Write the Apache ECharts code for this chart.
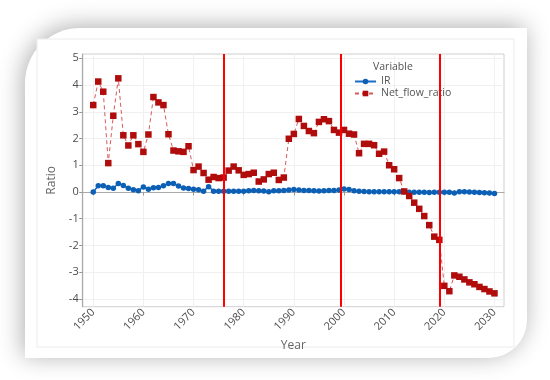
<!DOCTYPE html>
<html>
<head>
<meta charset="utf-8">
<script src="https://cdn.jsdelivr.net/npm/echarts@6/dist/echarts.min.js"></script>
<style>html,body{margin:0;padding:0;background:#fff}#c{width:550px;height:380px}</style>
</head>
<body>
<div id="c"></div>
<script>
const years = [];
for (let y = 1950; y <= 2030; y++) years.push(y);

const IR = [0.00,0.23,0.23,0.17,0.14,0.32,0.24,0.14,0.08,0.05,
  0.19,0.10,0.16,0.17,0.23,0.32,0.32,0.22,0.15,0.13,
  0.10,0.08,0.03,0.20,0.03,0.03,0.03,0.03,0.03,0.03,
  0.03,0.05,0.06,0.05,0.04,0.01,0.05,0.05,0.06,0.07,
  0.09,0.07,0.06,0.06,0.05,0.04,0.05,0.06,0.06,0.07,
  0.11,0.09,0.05,0.03,0.02,0.01,0.01,0.01,0.01,0.01,
  0.01,0.01,0.01,-0.01,-0.01,-0.01,-0.01,-0.02,-0.01,-0.01,
  -0.01,-0.01,-0.04,0.01,0.01,0.00,-0.01,-0.02,-0.03,-0.04,
  -0.06];

const Net_flow_ratio = [3.25,4.13,3.75,1.08,2.85,4.25,2.12,1.74,2.12,1.79,
  1.50,2.15,3.55,3.35,3.25,2.16,1.55,1.52,1.50,1.71,
  0.82,0.95,0.71,0.46,0.56,0.52,0.54,0.80,0.95,0.81,
  0.64,0.67,0.72,0.39,0.47,0.67,0.72,0.45,0.54,1.99,
  2.17,2.73,2.47,2.28,2.20,2.62,2.72,2.65,2.32,2.22,
  2.32,2.18,2.15,1.45,1.80,1.80,1.75,1.43,1.51,1.00,
  0.85,0.52,0.02,-0.15,-0.40,-0.63,-0.90,-1.24,-1.67,-1.79,
  -3.51,-3.71,-3.12,-3.17,-3.27,-3.38,-3.45,-3.55,-3.63,-3.72,
  -3.79];

const breakYears = [1976.1, 1999.3, 2019.1];
const xTicks = [1950,1960,1970,1980,1990,2000,2010,2020,2030];
const yTicks = [-4,-3,-2,-1,0,1,2,3,4,5];

const chart = echarts.init(document.getElementById('c'), null, {renderer:'canvas'});
const font = 'Open Sans';
const option = {
  animation: false,
  backgroundColor: '#ffffff',
  textStyle: {fontFamily: font},
  graphic: [
    {type:'rect', z:-10, shape:{x:25,y:28,width:502,height:330,r:[55,0,38,0]},
     style:{fill:'#ffffff', shadowBlur:24, shadowColor:'rgba(0,0,0,0.32)', shadowOffsetX:-2, shadowOffsetY:-2}},
    {type:'rect', z:-9, shape:{x:37,y:39,width:477,height:308},
     style:{fill:'#ffffff', stroke:'#ececec', lineWidth:1}},
    {type:'rect', z:-8, shape:{x:82.7,y:54,width:421.3,height:252.7},
     style:{fill:'none', stroke:'#cfcfcf', lineWidth:1}},
    {type:'text', z:10, left:373, top:62,
     style:{text:'Variable', fill:'#555', fontSize:10.5, fontFamily:font}}
  ],
  grid: {left:82.7, right:46, top:54, bottom:73.3, containLabel:false},
  legend: {
    orient:'vertical', left:349, top:71, itemGap:1, itemWidth:21, itemHeight:7,
    textStyle:{color:'#555', fontSize:10.5, fontFamily:font},
    data:['IR','Net_flow_ratio']
  },
  xAxis: {
    type:'value', min:1947.9, max:2031.9,
    name:'Year', nameLocation:'middle', nameGap:30,
    nameTextStyle:{color:'#666', fontSize:12},
    axisLine:{show:true, lineStyle:{color:'#aaaaaa', width:1.2}},
    axisTick:{show:true, length:3.5, customValues:xTicks, lineStyle:{color:'#999'}},
    axisLabel:{customValues:xTicks, rotate:45, color:'#4d4d4d', fontSize:11, margin:4,
      formatter:(v)=>String(v)},
    splitLine:{show:true, lineStyle:{color:'#f0f0f0', width:1}}
  },
  yAxis: {
    type:'value', min:-4.29, max:5.16,
    name:'Ratio', nameLocation:'middle', nameGap:22, nameRotate:90,
    nameTextStyle:{color:'#666', fontSize:12},
    axisLine:{show:true, lineStyle:{color:'#aaaaaa', width:1.2}},
    axisTick:{show:true, length:3.5, customValues:yTicks, lineStyle:{color:'#999'}},
    axisLabel:{customValues:yTicks, color:'#4d4d4d', fontSize:11, margin:4,
      formatter:(v)=>String(v)},
    splitLine:{show:true, lineStyle:{color:'#f0f0f0', width:1}}
  },
  series: [
    {
      name:'IR', type:'line', z:3,
      data: years.map((y,i)=>[y, IR[i]]),
      symbol:'circle', symbolSize:5.5,
      itemStyle:{color:'#0b5fb5'},
      lineStyle:{color:'#1a6cc4', width:1.5}
    },
    {
      name:'Net_flow_ratio', type:'line', z:4,
      data: years.map((y,i)=>[y, Net_flow_ratio[i]]),
      symbol:'rect', symbolSize:6.5,
      itemStyle:{color:'#b00c0c'},
      lineStyle:{color:'#d65a5a', width:1, type:[4,3]},
      markLine:{
        silent:true, symbol:['none','none'], label:{show:false},
        lineStyle:{color:'#ff0000', width:2, type:'solid'},
        data: breakYears.map(v=>({xAxis:v}))
      }
    }
  ]
};
chart.setOption(option);
</script>
</body>
</html>
